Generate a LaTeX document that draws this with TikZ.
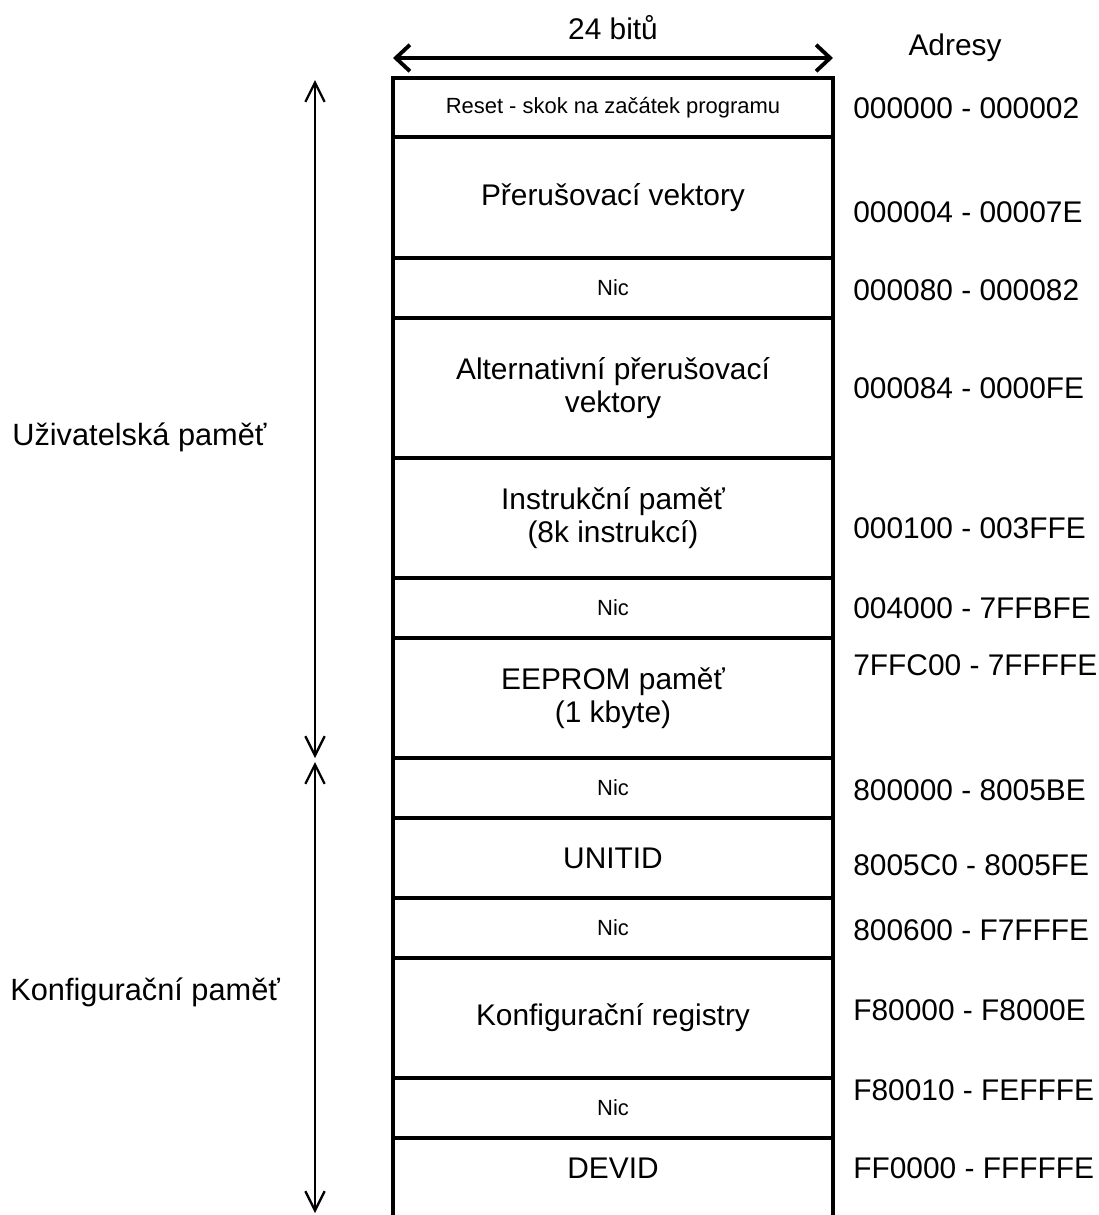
\documentclass[tikz,border=0pt]{standalone}
\usepackage{fontspec}
\setmainfont{Liberation Sans}
\usepackage{tikz}
\usetikzlibrary{arrows.meta,positioning}

\begin{document}
\begin{tikzpicture}[x=0.02cm,y=-0.02cm,
  cell/.style={draw,line width=2.2pt,minimum width=8.8cm,inner sep=0pt,outer sep=0pt,
    align=center,font=\fontsize{17}{18.8}\selectfont},
  cellsm/.style={cell,font=\fontsize{12.5}{15}\selectfont},
  addr/.style={anchor=west,inner sep=0pt,font=\fontsize{17}{19}\selectfont},
  side/.style={anchor=west,inner sep=0pt,font=\fontsize{17.5}{19}\selectfont},
  span/.style={line width=1.3pt,
    {Straight Barb[length=11pt,width=11pt]}-{Straight Barb[length=11pt,width=11pt]}},
  wide/.style={line width=2.2pt,
    {Straight Barb[length=8pt,width=15pt]}-{Straight Barb[length=8pt,width=15pt]}}]
  \useasboundingbox (0,0) rectangle (1099,1215);

  % --- Hlavicka ---
  \coordinate (wl) at (393,58);
  \coordinate (wr) at (833,58);
  \draw[wide] (wl) -- (wr);
  \node[font=\fontsize{17}{19}\selectfont] (bits) at (613,28) {24 bitů};
  \node[font=\fontsize{17}{19}\selectfont] (adr) at (955,48) {Adresy};

  % --- Pametove bloky (shora dolu) ---
  \foreach \n/\ya/\yb/\st/\txt in {
      r1/78/137/cellsm/{Reset - skok na začátek programu},
      r2/137/258/cell/{Přerušovací vektory},
      r3/258/318/cellsm/{Nic},
      r4/318/458/cell/{Alternativní přerušovací\\vektory},
      r5/458/578/cell/{Instrukční paměť\\(8k instrukcí)},
      r6/578/638/cellsm/{Nic},
      r7/638/758/cell/{EEPROM paměť\\(1 kbyte)},
      r8/758/818/cellsm/{Nic},
      r9/818/898/cell/{UNITID},
      r10/898/958/cellsm/{Nic},
      r11/958/1078/cell/{Konfigurační registry},
      r12/1078/1138/cellsm/{Nic}}
    \node[\st,minimum height={(\yb-\ya)*0.02cm}] (\n) at (613,{(\ya+\yb)/2}) {\txt};
  % posledni blok pokracuje pod okraj
  \node[font=\fontsize{17}{19}\selectfont] (r13) at (613,1168) {DEVID};
  \draw[line width=2.2pt] (r12.south west) -- ++(0,110);
  \draw[line width=2.2pt] (r12.south east) -- ++(0,110);

  % --- Adresy ---
  \foreach \n/\y/\txt in {a1/108/000000 - 000002, a2/212/000004 - 00007E,
      a3/290/000080 - 000082, a4/388/000084 - 0000FE, a5/528/000100 - 003FFE,
      a6/608/004000 - 7FFBFE, a7/665/7FFC00 - 7FFFFE, a8/790/800000 - 8005BE,
      a9/865/8005C0 - 8005FE, a10/930/800600 - F7FFFE, a11/1010/F80000 - F8000E,
      a12/1090/F80010 - FEFFFE, a13/1168/FF0000 - FFFFFE}
    \node[addr] (\n) at (853,\y) {\txt};

  % --- Rozsahy pameti ---
  \coordinate (u1) at (315,80);
  \coordinate (u2) at (315,758);
  \coordinate (k1) at (315,762);
  \coordinate (k2) at (315,1213);
  \draw[span] (u1) -- (u2);
  \draw[span] (k1) -- (k2);
  \node[side] (user) at (12,437) {Uživatelská paměť};
  \node[side] (conf) at (10,992) {Konfigurační paměť};
\end{tikzpicture}
\end{document}
